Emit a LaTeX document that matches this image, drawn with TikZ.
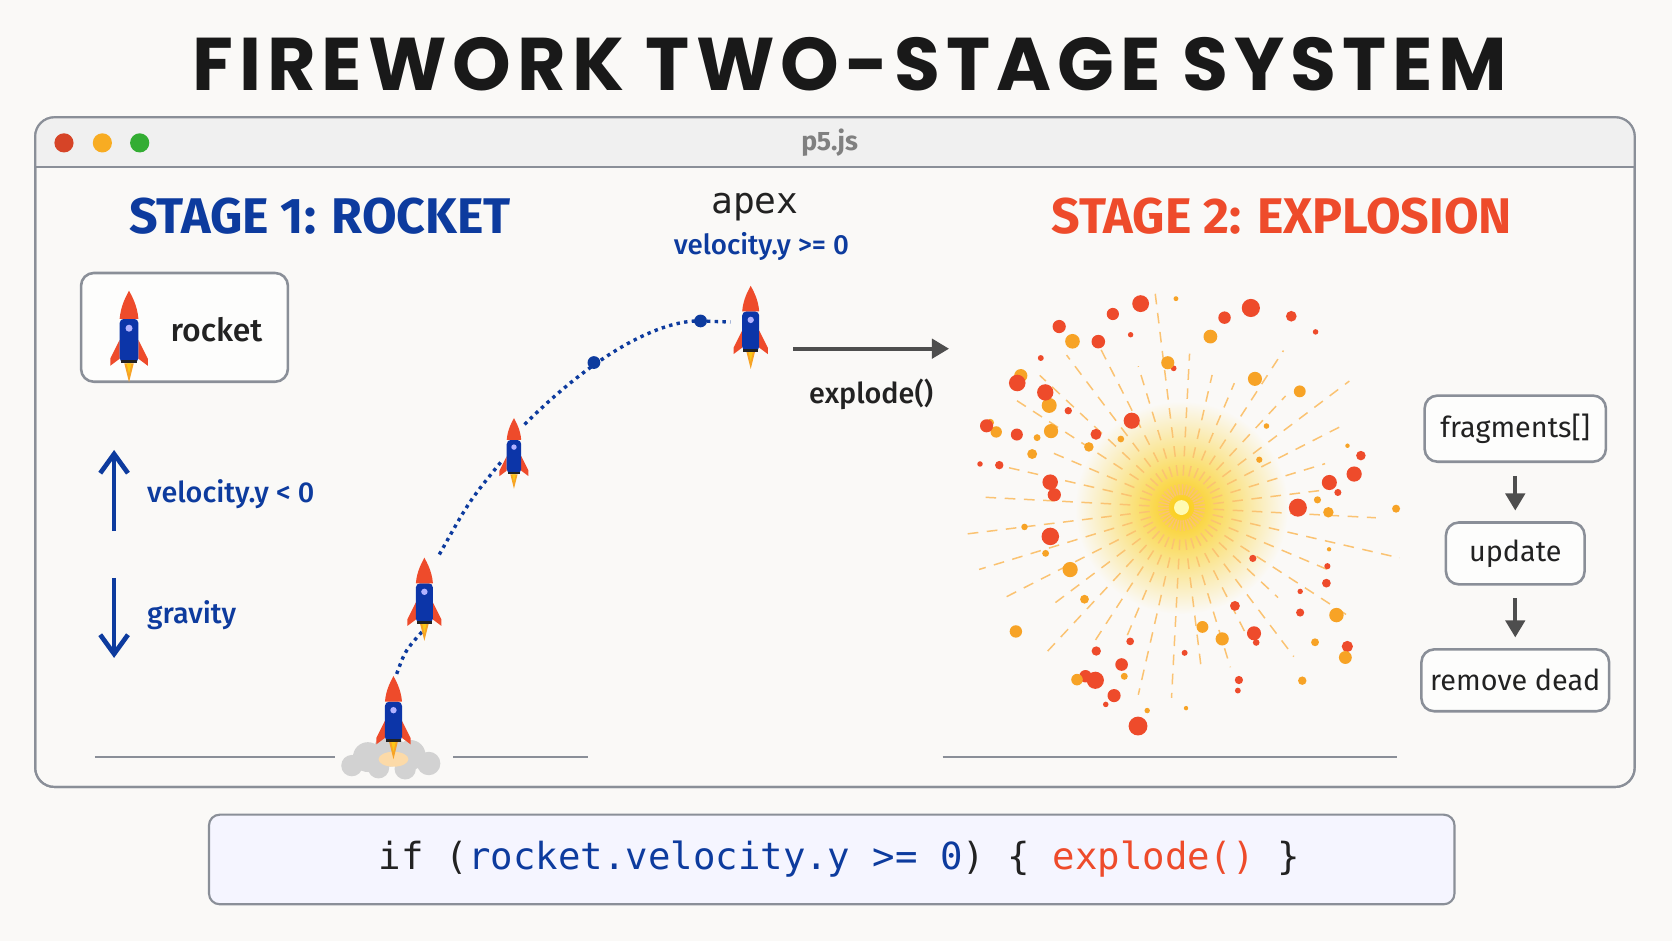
\documentclass[tikz,border=0pt]{standalone}
\usepackage{fontspec}
\setmainfont{Fira Sans}
\newfontfamily\titlefont[LetterSpace=8]{Poppins}
\newfontfamily\labfont{Fira Sans Medium}
\setmonofont{DejaVu Sans Mono}
\usetikzlibrary{arrows.meta,shapes.geometric,calc}
\definecolor{bgc}{HTML}{FAF9F7}
\definecolor{bluec}{HTML}{0D3B9E}
\definecolor{redc}{HTML}{EE4B2B}
\definecolor{orc}{HTML}{F7A326}
\definecolor{grayl}{HTML}{8A8F98}
\definecolor{darkc}{HTML}{222222}
\tikzset{
  box/.style={draw=grayl,line width=1.2pt,rounded corners=6pt,fill=white!60!bgc,font=\fontsize{13.5}{15}\selectfont,text=darkc},
  garr/.style={-{Triangle[length=8pt,width=9pt]},line width=1.8pt,draw=darkc!80},
  barr/.style={-{Straight Barb[length=9pt,width=13pt]},line width=2.2pt,draw=bluec},
  lbl/.style={font=\fontsize{14}{16}\selectfont,text=bluec},
  ground/.style={draw=grayl,line width=1pt},
  rocket/.pic={
    \fill[orc] (-4,28) -- (0,44) -- (4,28) -- cycle;
    \fill[orc!60!yellow] (-2,28) -- (0,37) -- (2,28) -- cycle;
    \fill[redc] (-8,8) -- (-16,24) -- (-16,30) -- (-8,24) -- cycle;
    \fill[redc] (8,8) -- (16,24) -- (16,30) -- (8,24) -- cycle;
    \fill[bluec!90!blue,rounded corners=2] (-8,-10) rectangle (8,27);
    \fill[darkc] (-7,25) rectangle (7,28);
    \fill[redc] (-8,-10) .. controls (-7,-22) and (-2,-30) .. (0,-34) .. controls (2,-30) and (7,-22) .. (8,-10) -- cycle;
    \fill[blue!30!white] (0,-2) circle (3);
  }
}
\begin{document}
\begin{tikzpicture}[x=0.5pt,y=-0.5pt]
\fill[bgc] (0,0) rectangle (1568,882);
\useasboundingbox (0,0) rectangle (1568,882);
% title
\node[font=\titlefont\bfseries\fontsize{35}{40}\selectfont,text=black!90] (title) at (797,60) {FIREWORK TWO-STAGE SYSTEM};
% window
\draw[draw=grayl,line width=1pt,fill=bgc,rounded corners=9pt] (33,110) rectangle (1533,738);
\begin{scope}
\clip[rounded corners=9pt] (33,110) rectangle (1533,200);
\fill[gray!12] (33,110) rectangle (1533,157);
\end{scope}
\draw[grayl,line width=1pt] (33,157) -- (1533,157);
\draw[draw=grayl,line width=1pt,rounded corners=9pt] (33,110) rectangle (1533,738);
\fill[redc!90!black] (60,134) circle (9);
\fill[orc!90!yellow] (96,134) circle (9);
\fill[green!60!black!80] (131,134) circle (9);
\node[font=\fontsize{12.5}{14}\selectfont\bfseries,text=gray] (p5) at (778,134) {p5.js};
% stage headings
\node[font=\bfseries\fontsize{23.5}{26}\selectfont,text=bluec] (s1) at (300,203) {STAGE 1: ROCKET};
\node[font=\bfseries\fontsize{23.5}{26}\selectfont,text=redc] (s2) at (1202,203) {STAGE 2: EXPLOSION};
\node[font=\fontsize{17}{18}\selectfont\ttfamily,text=darkc] (apex) at (708,194) {apex};
\node[font=\labfont\fontsize{13}{14}\selectfont,text=bluec] (apexv) at (714,231) {velocity.y >= 0};
% rocket legend
\node[box,minimum width=97pt,minimum height=51pt] (rbox) at (173,307) {};
\pic[scale=1.1] at (121,310) {rocket};
\node[font=\labfont\fontsize{15}{16}\selectfont,text=darkc] (rlab) at (203,309) {rocket};
% velocity arrows
\coordinate (u1) at (107,498); \coordinate (u2) at (107,422);
\draw[barr] (u1) -- (u2);
\node[lbl,font=\labfont\fontsize{13.5}{16}\selectfont,anchor=west] (vl) at (131,463) {velocity.y < 0};
\coordinate (d1) at (107,542); \coordinate (d2) at (107,617);
\draw[barr] (d1) -- (d2);
\node[lbl,font=\labfont\fontsize{13.5}{16}\selectfont,anchor=west] (gl) at (131,577) {gravity};
% ground
\draw[ground] (89,710) -- (314,710);
\draw[ground] (425,710) -- (551,710);
\draw[ground] (884,710) -- (1310,710);
% cloud
\fill[gray!35] (330,718) circle (10) (345,710) circle (14) (365,704) circle (15) (385,708) circle (14) (402,716) circle (11) (355,720) circle (10) (380,721) circle (10);
\fill[orc!40] (369,712) ellipse (14 and 7);
% trajectory
\coordinate (t0) at (372,632);
\coordinate (t1) at (398,590);
\coordinate (t2) at (412,520);
\coordinate (t3) at (470,433);
\coordinate (t4) at (492,398);
\coordinate (c1) at (557,340);
\coordinate (c2) at (657,301);
\coordinate (t5) at (685,302);
\draw[bluec,line width=1.6pt,dotted] (t0) .. controls (380,610) .. (t1);
\draw[bluec,line width=1.6pt,dotted] (t2) .. controls (440,470) .. (t3);
\draw[bluec,line width=1.6pt,dotted] (t4) .. controls (560,330) and (620,300) .. (c2) -- (t5);
\fill[bluec] (c1) circle (6) (c2) circle (6);
\pic at (369,668) {rocket};
\pic at (398,557) {rocket};
\pic[scale=0.85] at (482,421) {rocket};
\pic at (704,302) {rocket};
% explode arrow
\coordinate (e1) at (744,327); \coordinate (e2) at (890,327);
\draw[garr] (e1) -- (e2);
\node[font=\labfont\fontsize{13.5}{15}\selectfont,text=darkc] (ex) at (817,370) {explode()};
% explosion
\coordinate (cen) at (1108,476);
\shade[inner color=orc!55!yellow,outer color=bgc] (cen) circle (100);
\pgfmathsetseed{11}
\foreach \a in {0,10,...,350}{
  \pgfmathsetmacro{\r}{120+95*rnd}
  \draw[orc!65,line width=0.7pt,dash pattern=on 5pt off 4pt] ($(cen)+(\a+3:12)$) -- ($(cen)+(\a+3:\r)$);
}
\fill[yellow!30!white] (cen) circle (7);
\foreach \i in {1,...,85}{
  \pgfmathsetmacro{\ang}{360*rnd}
  \pgfmathsetmacro{\rr}{75+135*sqrt(rnd)}
  \pgfmathsetmacro{\sz}{2.5+6.5*rnd}
  \pgfmathsetmacro{\cc}{rnd>0.45?1:0}
  \ifdim\cc pt>0.5pt
    \fill[redc] ($(cen)+(\ang:\rr)$) circle (\sz);
  \else
    \fill[orc] ($(cen)+(\ang:\rr)$) circle (\sz*0.8);
  \fi
}
% fragment flow
\node[box,minimum width=85pt,minimum height=31pt] (fr) at (1421,402) {fragments[]};
\node[box,minimum width=65pt,minimum height=29pt] (up) at (1421,519) {update};
\node[box,minimum width=88pt,minimum height=29pt] (rd) at (1421,638) {remove dead};
\draw[garr] ($(fr.south)+(0,12)$) -- ($(up.north)+(0,-10)$);
\draw[garr] ($(up.south)+(0,12)$) -- ($(rd.north)+(0,-10)$);
% code box
\node[draw=grayl,line width=1pt,rounded corners=5pt,fill=blue!4!white,minimum width=584pt,minimum height=42pt] (code) at (780,806) {};
\node[font=\ttfamily\fontsize{17.5}{20}\selectfont,text=darkc] (codet) at (787,806) {if (\textcolor{bluec}{rocket.velocity.y >= 0}) \{ \textcolor{redc}{explode()} \}};
\end{tikzpicture}
\end{document}
